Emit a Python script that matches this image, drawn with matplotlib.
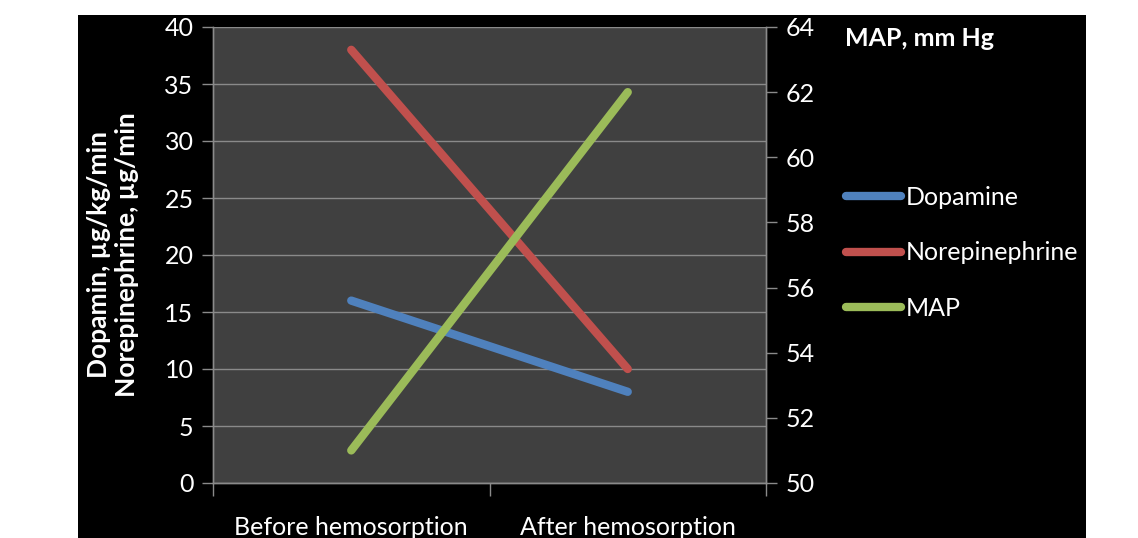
import matplotlib.pyplot as plt
from matplotlib.patches import Rectangle

plt.rcParams["font.family"] = ["Lato", "DejaVu Sans"]

# Data
categories = ["Before hemosorption", "After hemosorption"]
dopamine = [16, 8]
norepinephrine = [38, 10]
map_values = [51, 62]

left_ticks = [0, 5, 10, 15, 20, 25, 30, 35, 40]
right_ticks = [50, 52, 54, 56, 58, 60, 62, 64]

W, H = 1138, 538
fig = plt.figure(figsize=(W / 100, H / 100), dpi=100, facecolor="white")

# black chart area
fig.patches.append(Rectangle((78 / W, 0), (1086 - 78) / W, (538 - 15) / H,
                             transform=fig.transFigure, facecolor="black",
                             edgecolor="none", zorder=-5))

ax = fig.add_axes([213 / W, (538 - 483) / H, (766 - 213) / W, (483 - 27) / H])
ax.set_facecolor("#404040")
ax2 = ax.twinx()

grid_col = "#8a8a8a"
x = [0.5, 1.5]

l1, = ax.plot(x, dopamine, color="#4F81BD", lw=6, solid_capstyle="round", label="Dopamine")
l2, = ax.plot(x, norepinephrine, color="#C0504D", lw=6, solid_capstyle="round", label="Norepinephrine")
l3, = ax2.plot(x, map_values, color="#9BBB59", lw=6, solid_capstyle="round", label="MAP")

ax.set_xlim(0, 2)
ax.set_ylim(0, 40)
ax2.set_ylim(50, 64)
ax.set_yticks(left_ticks)
ax2.set_yticks(right_ticks)
ax.set_xticks([0, 1, 2])
ax.set_xticklabels([])
ax.set_xticks(x, minor=True)
ax.set_xticklabels(categories, minor=True)
ax.tick_params(axis="x", which="minor", length=0, pad=24, labelsize=18, labelcolor="white")
ax.tick_params(axis="x", which="major", length=9, color=grid_col, width=1)
ax.tick_params(axis="y", length=8, color=grid_col, width=1, labelsize=18, labelcolor="white", pad=6)
ax2.tick_params(axis="y", length=8, color=grid_col, width=1, labelsize=18, labelcolor="white", pad=6)

ax.grid(axis="y", color=grid_col, lw=1)
ax.set_axisbelow(True)
for a in (ax, ax2):
    a.spines["top"].set_visible(False)
    for s in ("left", "right", "bottom"):
        a.spines[s].set_color(grid_col)
        a.spines[s].set_linewidth(1)

ax.set_ylabel("Dopamin, µg/kg/min\nNorepinephrine, µg/min", color="white",
              fontsize=19, fontweight="bold", linespacing=1.2, labelpad=18)

fig.text(845 / W, 1 - 38 / H, "MAP, mm Hg", color="white", fontsize=18,
         fontweight="bold", va="center", ha="left")

leg = fig.legend(handles=[l1, l2, l3], loc="center left",
                 bbox_to_anchor=(846 / W, 1 - 253 / H), frameon=False,
                 fontsize=18, labelcolor="white", handlelength=2.2,
                 handletextpad=0.2, labelspacing=1.3, borderpad=0,
                 borderaxespad=0)

fig.savefig("out.png", dpi=100, facecolor="white")
